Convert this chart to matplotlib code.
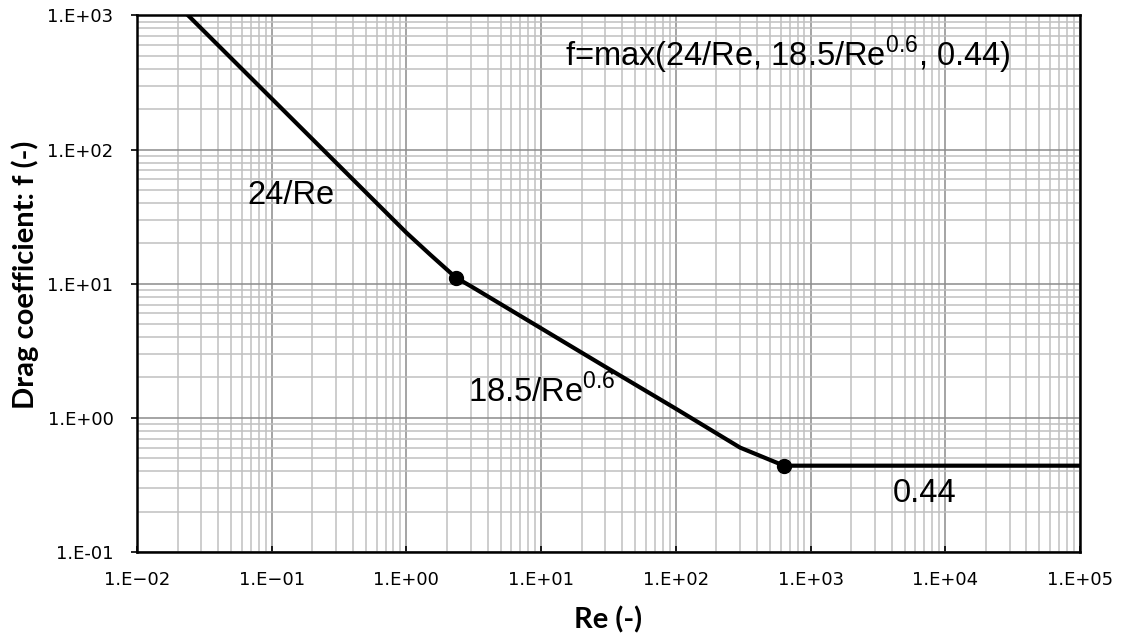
import matplotlib
matplotlib.use('Agg')
import matplotlib.pyplot as plt
from matplotlib.ticker import LogLocator, FixedLocator, NullFormatter

plt.rcParams['mathtext.fontset'] = 'custom'
plt.rcParams['mathtext.rm'] = 'Liberation Sans'

# Data (f = max(24/Re, 18.5/Re^0.6, 0.44))
re_vals = [0.01, 0.03, 0.1, 0.3, 1, 1.5, 2.33, 3, 10, 30, 100, 300, 635, 1000, 3000, 1e4, 3e4, 1e5]
f_vals = [2400, 800, 240, 80, 24, 16.5, 11.1, 9.6, 4.65, 2.4, 1.17, 0.60, 0.44, 0.44, 0.44, 0.44, 0.44, 0.44]
marker_re = [2.33, 635]
marker_f = [11.1, 0.44]

x_ticks = [1e-2, 1e-1, 1e0, 1e1, 1e2, 1e3, 1e4, 1e5]
x_labels = ['1.E\u221202', '1.E\u221201', '1.E+00', '1.E+01', '1.E+02', '1.E+03', '1.E+04', '1.E+05']
y_ticks = [1e-1, 1e0, 1e1, 1e2, 1e3]
y_labels = ['1.E-01', '1.E+00', '1.E+01', '1.E+02', '1.E+03']

fig = plt.figure(figsize=(11.23, 6.42), dpi=100)
ax = fig.add_axes([0.122, 0.1402, 0.8397, 0.8357])

ax.plot(re_vals, f_vals, color='black', lw=3.0, zorder=5, clip_on=True)
ax.plot(marker_re, marker_f, 'o', color='black', ms=10, zorder=6)

ax.set_xscale('log')
ax.set_yscale('log')
ax.set_xlim(1e-2, 1e5)
ax.set_ylim(1e-1, 1e3)

ax.xaxis.set_major_locator(FixedLocator(x_ticks))
ax.yaxis.set_major_locator(FixedLocator(y_ticks))
ax.xaxis.set_minor_locator(LogLocator(base=10, subs=range(2, 10), numticks=20))
ax.yaxis.set_minor_locator(LogLocator(base=10, subs=range(2, 10), numticks=20))
ax.xaxis.set_minor_formatter(NullFormatter())
ax.yaxis.set_minor_formatter(NullFormatter())
ax.set_xticklabels(x_labels, family='DejaVu Sans', fontsize=13)
ax.set_yticklabels(y_labels, family='DejaVu Sans', fontsize=13)

ax.grid(which='major', color='#8c8c8c', lw=1.1)
ax.grid(which='minor', color='#c0c0c0', lw=1.1)
ax.set_axisbelow(True)

ax.tick_params(axis='x', which='major', direction='in', length=4, width=1.2, pad=14)
ax.tick_params(axis='y', which='major', direction='out', length=4, width=1.2, pad=13)
ax.tick_params(which='minor', length=0)
for side in ['left', 'bottom', 'right', 'top']:
    ax.spines[side].set_linewidth(1.8)
    ax.spines[side].set_color('black')

ax.set_xlabel('Re (-)', family='Lato', fontweight='bold', fontsize=21)
ax.set_ylabel('Drag coefficient: f (-)', family='Lato', fontweight='bold', fontsize=21)
ax.xaxis.set_label_coords(0.5, -0.102)
ax.yaxis.set_label_coords(-0.104, 0.516)

txt = dict(family='Liberation Sans', fontsize=23.5, va='baseline', ha='left', zorder=7)
ax.text(0.0656, 39.0, '24/Re', **txt)
ax.text(2.87, 1.32, r'18.5/Re$^{0.6}$', **txt)
ax.text(4093, 0.237, '0.44', **txt)
ax.text(15.0, 421, r'f=max(24/Re, 18.5/Re$^{0.6}$, 0.44)', **txt)

fig.savefig('out.png', dpi=100)
